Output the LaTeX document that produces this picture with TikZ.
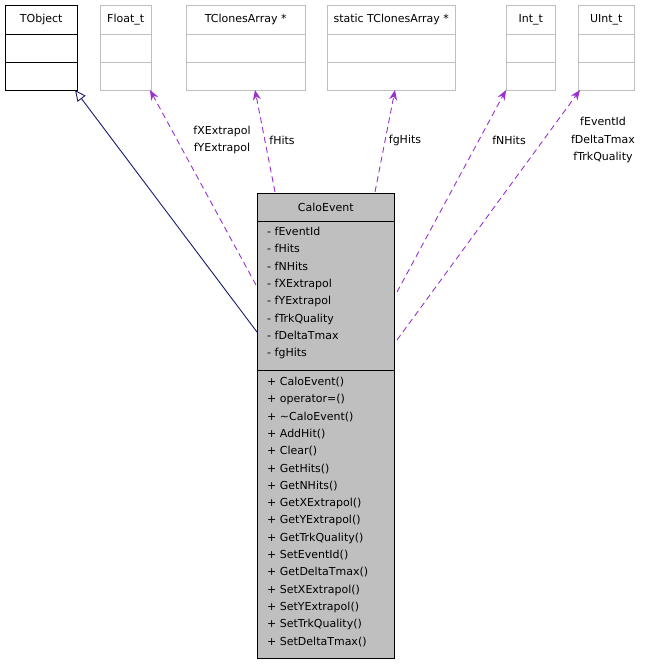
\documentclass[tikz,border=0pt]{standalone}
\usepackage{fontspec}
\setmainfont{DejaVu Sans}
\usetikzlibrary{arrows.meta}
\definecolor{edgepurple}{HTML}{9A32CD}
\definecolor{edgenavy}{HTML}{191970}
\definecolor{boxgray}{HTML}{BFBFBF}
\begin{document}
\begin{tikzpicture}[x=1pt, y=-1pt,
    every node/.style={font=\fontsize{11}{17.3}\selectfont},
    cls/.style={draw=boxgray, inner sep=0pt, anchor=north west},
    lbl/.style={inner sep=0pt, align=center},
    member/.style={inner sep=0pt, anchor=north west, align=left},
    use/.style={-{Stealth[length=10pt,width=8pt]}, dash pattern=on 6pt off 4pt, edgepurple, line width=0.9pt},
    inherit/.style={-{Triangle[open,length=11pt,width=10pt]}, edgenavy, line width=0.9pt}
]
\useasboundingbox (0,0) rectangle (647,664);

% used classes
\node[cls, draw=black, minimum width=72, minimum height=85] (tobject) at (5,5) {};
\node[cls, minimum width=51, minimum height=85] (float) at (100,5) {};
\node[cls, minimum width=119, minimum height=85] (clones) at (186,5) {};
\node[cls, minimum width=128, minimum height=85] (sclones) at (327,5) {};
\node[cls, minimum width=49, minimum height=85] (int) at (506,5) {};
\node[cls, minimum width=56, minimum height=85] (uint) at (578,5) {};
\foreach \c/\t in {tobject/TObject, float/Float\_t, clones/TClonesArray *, sclones/static TClonesArray *, int/Int\_t, uint/UInt\_t}{
  \node[lbl] at ([yshift=-14.5]\c.north) {\t};
}
\draw (5,34) -- (77,34) (5,62) -- (77,62);
\foreach \c in {float,clones,sclones,int,uint}{
  \draw[boxgray] (\c.west |- 0,34) -- (\c.east |- 0,34) (\c.west |- 0,62) -- (\c.east |- 0,62);
}

% CaloEvent
\node[cls, draw=black, fill=boxgray, minimum width=137, minimum height=465] (calo) at (257,193) {};
\node[lbl] at ([yshift=-14]calo.north) {CaloEvent};
\draw (257,221) -- (394,221) (257,370) -- (394,370);
\node[member] (attrs) at (267,227) {- fEventId\\- fHits\\- fNHits\\- fXExtrapol\\- fYExtrapol\\- fTrkQuality\\- fDeltaTmax\\- fgHits};
\node[member] (ops) at (267,377) {+ CaloEvent()\\+ operator=()\\+ \textasciitilde CaloEvent()\\+ AddHit()\\+ Clear()\\+ GetHits()\\+ GetNHits()\\+ GetXExtrapol()\\+ GetYExtrapol()\\+ GetTrkQuality()\\+ SetEventId()\\+ GetDeltaTmax()\\+ SetXExtrapol()\\+ SetYExtrapol()\\+ SetTrkQuality()\\+ SetDeltaTmax()};

% connectors
\coordinate (cInh) at (257,332);
\coordinate (cFloat) at (256,285);
\coordinate (cClones) at (275,192);
\coordinate (cStatic) at (375,192);
\coordinate (cInt) at (397,292);
\coordinate (cUInt) at (397,340);
\draw[inherit] (cInh) -- (75,90);
\draw[use] (cFloat) -- (150,90);
\draw[use] (cClones) -- (255,90);
\draw[use] (cStatic) -- (395,90);
\draw[use] (cInt) -- (506,90);
\draw[use] (cUInt) -- (580,90);

\node[lbl] at (222,140) {fXExtrapol\\fYExtrapol};
\node[lbl] at (282,140) {fHits};
\node[lbl] at (405,140) {fgHits};
\node[lbl] at (509,140) {fNHits};
\node[lbl] at (603,140) {fEventId\\fDeltaTmax\\fTrkQuality};
\end{tikzpicture}
\end{document}
